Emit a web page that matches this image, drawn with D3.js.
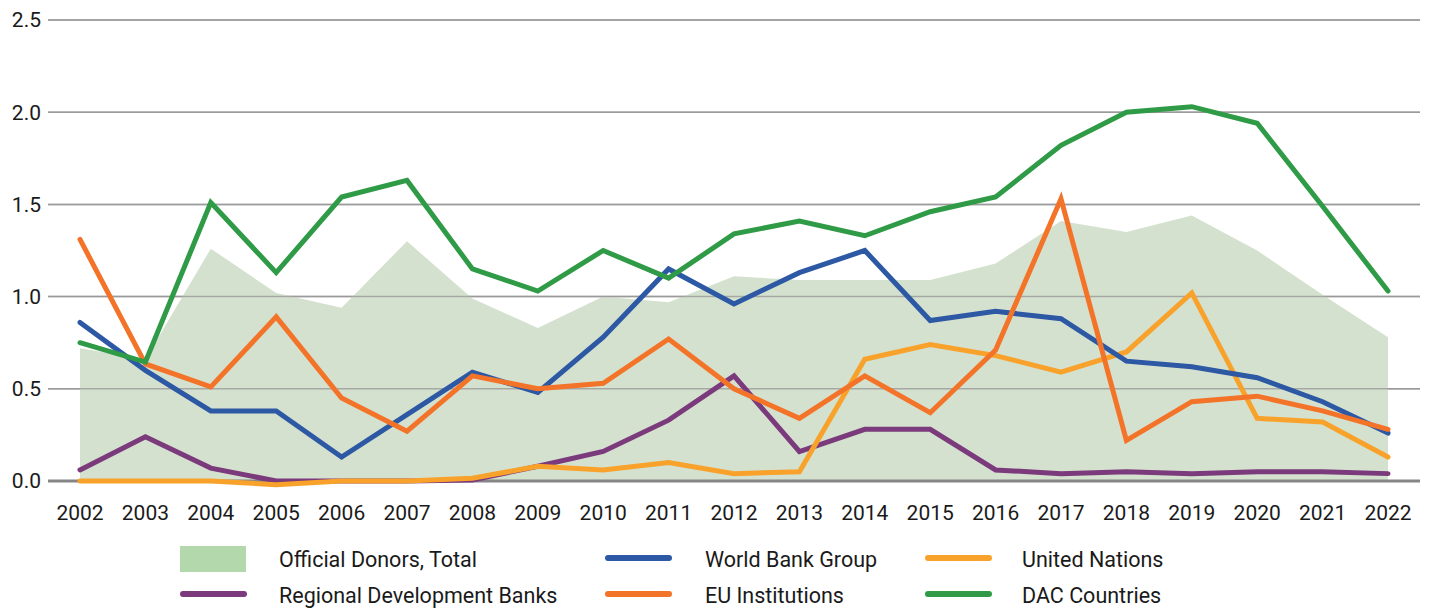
<!DOCTYPE html>
<html>
<head>
<meta charset="utf-8">
<script src="https://cdn.jsdelivr.net/npm/d3@7"></script>
<style>
  html, body { margin: 0; padding: 0; background: #fff; }
  svg { display: block; font-family: Roboto, "Noto Sans", sans-serif; }
  .tick-label { font-size: 21px; fill: #1a1a1a; }
  .legend-label { font-size: 21.5px; fill: #1a1a1a; }
</style>
</head>
<body>
<svg id="chart" width="1430" height="609"></svg>
<script>
const years = d3.range(2002, 2023);
const yTicks = [0, 0.5, 1.0, 1.5, 2.0, 2.5];

const officialTotal = [0.72, 0.66, 1.26, 1.02, 0.94, 1.30, 0.99, 0.83, 1.00, 0.97, 1.11, 1.09, 1.09, 1.09, 1.18, 1.41, 1.35, 1.44, 1.25, 1.01, 0.78];
const worldBank = [0.86, 0.60, 0.38, 0.38, 0.13, 0.36, 0.59, 0.48, 0.78, 1.15, 0.96, 1.13, 1.25, 0.87, 0.92, 0.88, 0.65, 0.62, 0.56, 0.43, 0.26];
const unitedNations = [0.0, 0.0, 0.0, -0.02, 0.0, 0.0, 0.015, 0.08, 0.06, 0.10, 0.04, 0.05, 0.66, 0.74, 0.68, 0.59, 0.70, 1.02, 0.34, 0.32, 0.13];
const regionalBanks = [0.06, 0.24, 0.07, 0.0, 0.0, 0.0, 0.005, 0.08, 0.16, 0.33, 0.57, 0.16, 0.28, 0.28, 0.06, 0.04, 0.05, 0.04, 0.05, 0.05, 0.04];
const euInstitutions = [1.31, 0.635, 0.51, 0.89, 0.45, 0.27, 0.57, 0.50, 0.53, 0.77, 0.50, 0.34, 0.57, 0.37, 0.71, 1.53, 0.22, 0.43, 0.46, 0.38, 0.28];
const dacCountries = [0.75, 0.645, 1.51, 1.13, 1.54, 1.63, 1.15, 1.03, 1.25, 1.10, 1.34, 1.41, 1.33, 1.46, 1.54, 1.82, 2.0, 2.03, 1.94, 1.49, 1.03];

// draw order: area, then lines back to front
const lineSeries = [
  { name: 'Regional Development Banks', values: regionalBanks, color: '#7b3a7c' },
  { name: 'United Nations', values: unitedNations, color: '#f8a22c' },
  { name: 'World Bank Group', values: worldBank, color: '#2c58a4' },
  { name: 'EU Institutions', values: euInstitutions, color: '#f37429' },
  { name: 'DAC Countries', values: dacCountries, color: '#2f9b47' }
];

const legendItems = [
  { name: 'Official Donors, Total', type: 'area', color: '#b3d8ab', col: 0, row: 0 },
  { name: 'World Bank Group', type: 'line', color: '#2c58a4', col: 1, row: 0 },
  { name: 'United Nations', type: 'line', color: '#f8a22c', col: 2, row: 0 },
  { name: 'Regional Development Banks', type: 'line', color: '#7b3a7c', col: 0, row: 1 },
  { name: 'EU Institutions', type: 'line', color: '#f37429', col: 1, row: 1 },
  { name: 'DAC Countries', type: 'line', color: '#2f9b47', col: 2, row: 1 }
];

const svg = d3.select('#chart');
const x = d3.scalePoint().domain(years).range([80, 1388]);
const y = d3.scaleLinear().domain([0, 2.5]).range([481, 20]);

function gridlines(opacity) {
  svg.append('g')
    .selectAll('line')
    .data(yTicks.filter((d) => d > 0))
    .join('line')
    .attr('x1', 48)
    .attr('x2', 1420)
    .attr('y1', (d) => y(d))
    .attr('y2', (d) => y(d))
    .attr('stroke', '#9a9a9a')
    .attr('stroke-opacity', opacity)
    .attr('stroke-width', 1.5);
}

gridlines(1);

// total area
const area = d3.area()
  .x((d, i) => x(years[i]))
  .y0(y(0))
  .y1((d) => y(d));
svg.append('path')
  .datum(officialTotal)
  .attr('d', area)
  .attr('fill', '#d5e1cf');

// gridlines show through the area
gridlines(0.8);

// zero axis line
svg.append('line')
  .attr('x1', 48)
  .attr('x2', 1420)
  .attr('y1', y(0))
  .attr('y2', y(0))
  .attr('stroke', '#858585')
  .attr('stroke-width', 3);

const line = d3.line()
  .x((d, i) => x(years[i]))
  .y((d) => y(d));

svg.append('g')
  .selectAll('path')
  .data(lineSeries)
  .join('path')
  .attr('d', (d) => line(d.values))
  .attr('fill', 'none')
  .attr('stroke', (d) => d.color)
  .attr('stroke-width', 5)
  .attr('stroke-linejoin', 'miter')
  .attr('stroke-linecap', 'round');

// y axis labels
svg.append('g')
  .selectAll('text')
  .data(yTicks)
  .join('text')
  .attr('class', 'tick-label')
  .attr('x', 41)
  .attr('y', (d) => y(d))
  .attr('dy', '0.35em')
  .attr('text-anchor', 'end')
  .text((d) => d3.format('.1f')(d));

// x axis labels
svg.append('g')
  .selectAll('text')
  .data(years)
  .join('text')
  .attr('class', 'tick-label')
  .attr('x', (d) => x(d))
  .attr('y', 520)
  .attr('text-anchor', 'middle')
  .text((d) => d);

// legend
const colX = [180, 605, 925];
const textX = [99, 100, 97];
const rowY = [559, 595];
const legend = svg.append('g')
  .selectAll('g')
  .data(legendItems)
  .join('g')
  .attr('transform', (d) => `translate(${colX[d.col]},${rowY[d.row]})`);

legend.filter((d) => d.type === 'area')
  .append('rect')
  .attr('x', 0)
  .attr('y', -13)
  .attr('width', 66)
  .attr('height', 26)
  .attr('fill', (d) => d.color);

legend.filter((d) => d.type === 'line')
  .append('line')
  .attr('x1', 3)
  .attr('x2', 64)
  .attr('y1', -1)
  .attr('y2', -1)
  .attr('stroke', (d) => d.color)
  .attr('stroke-width', 6)
  .attr('stroke-linecap', 'round');

legend.append('text')
  .attr('class', 'legend-label')
  .attr('x', (d) => textX[d.col])
  .attr('y', 0)
  .attr('dy', '0.35em')
  .text((d) => d.name);
</script>
</body>
</html>
